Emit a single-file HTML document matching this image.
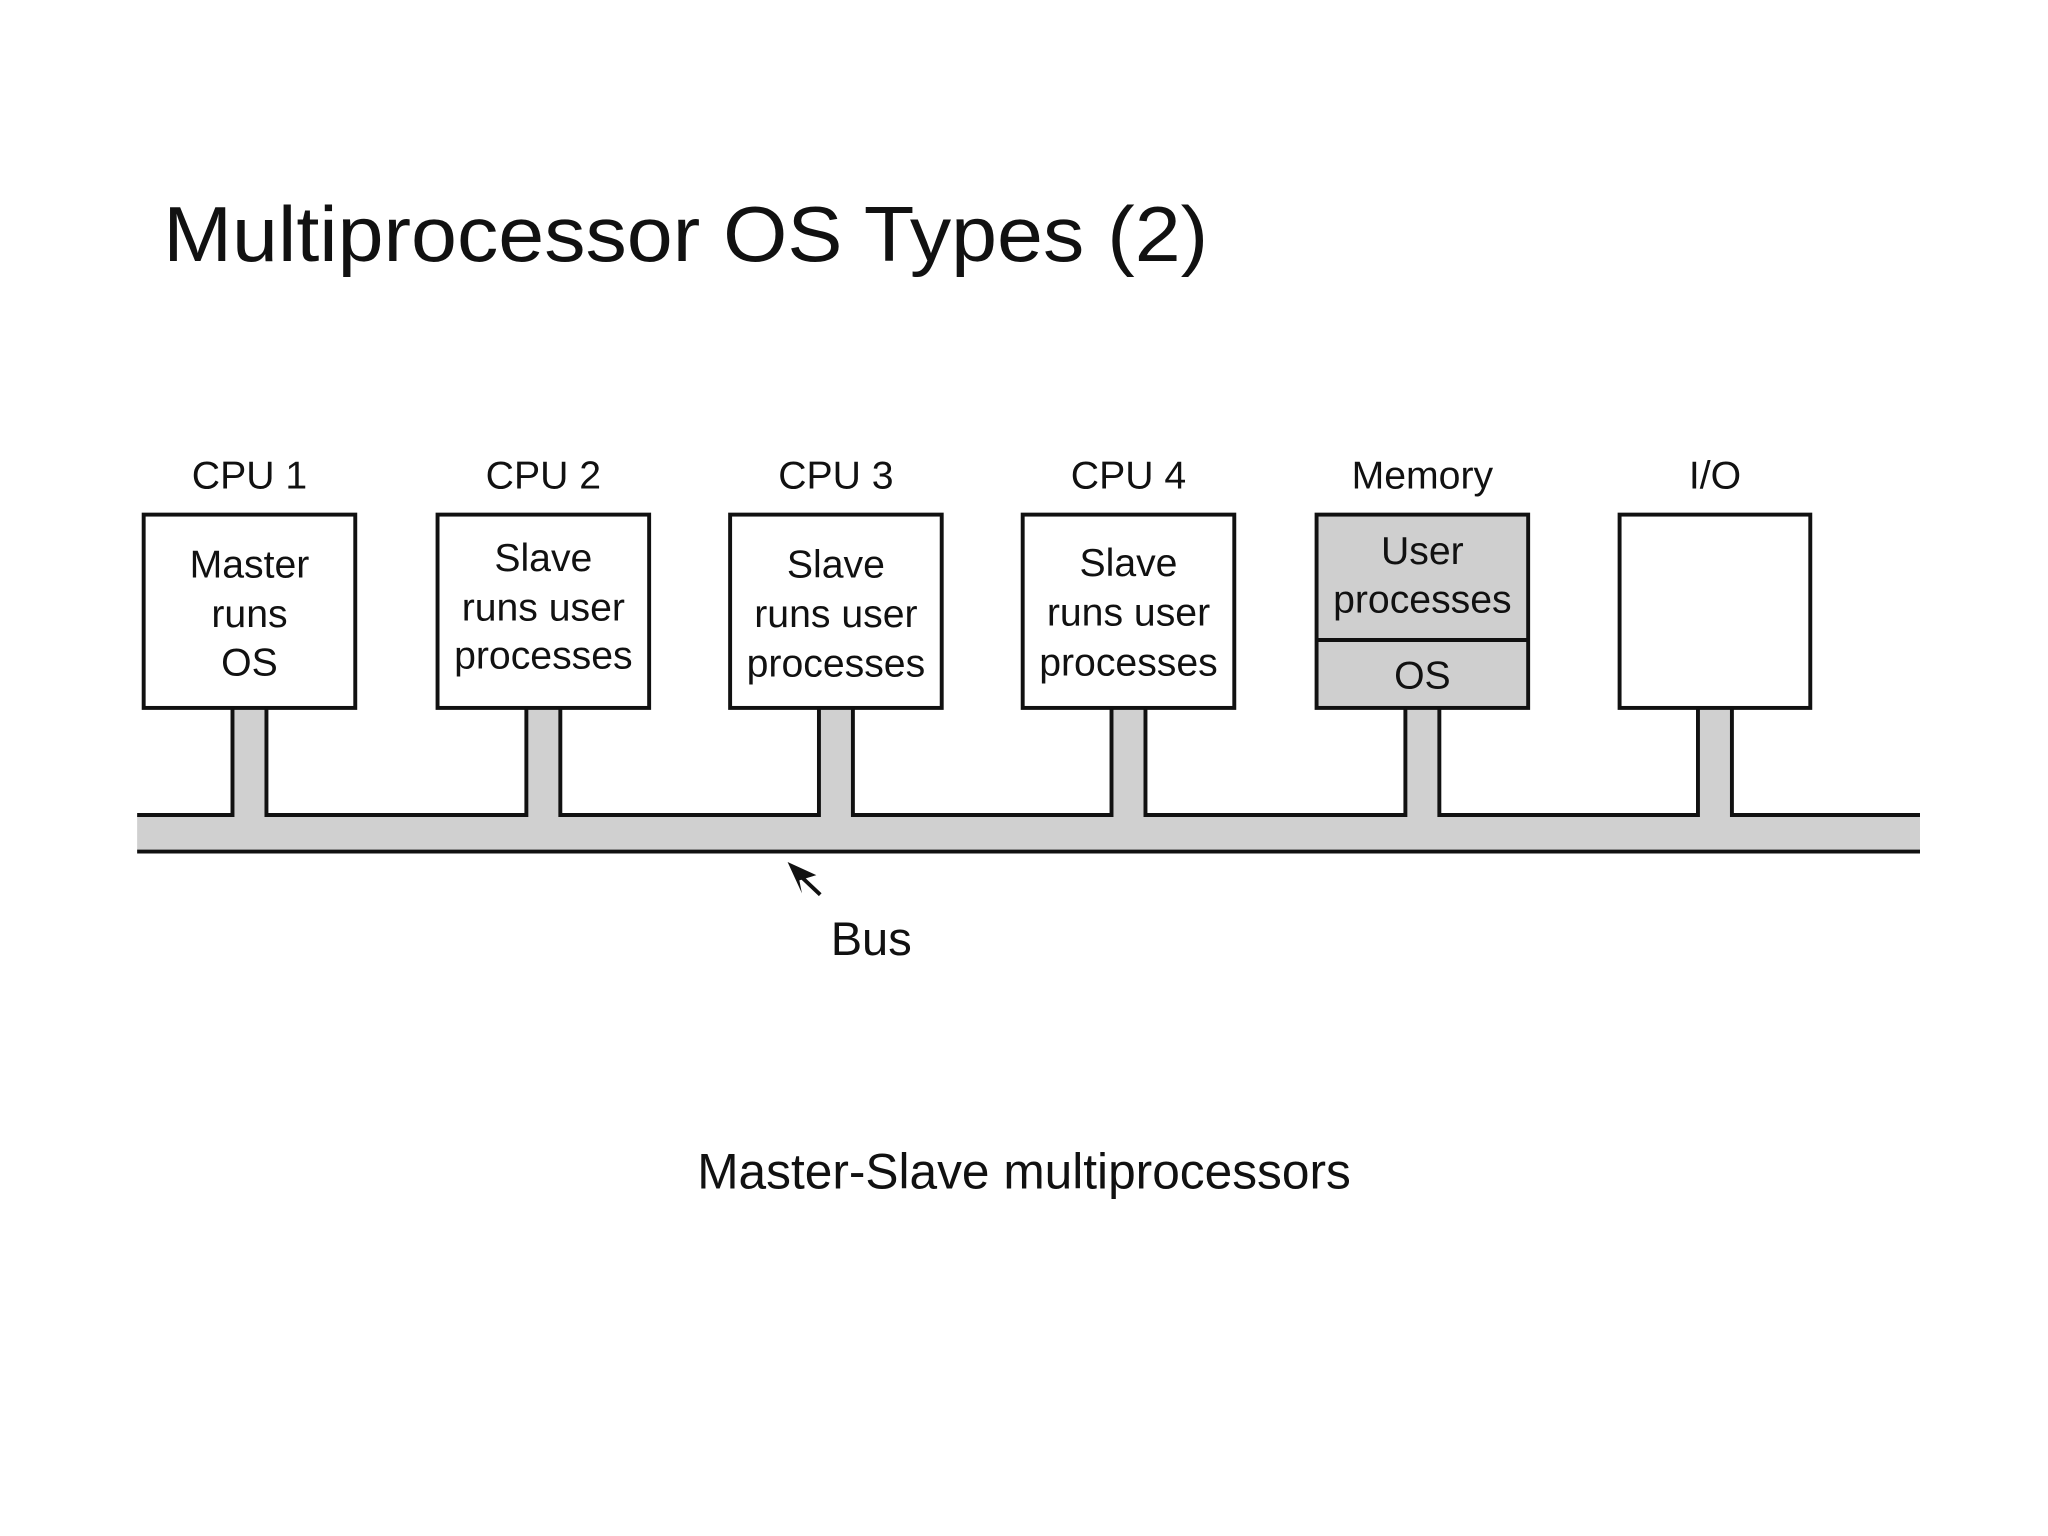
<!DOCTYPE html>
<html><head><meta charset="utf-8"><style>
html,body{margin:0;padding:0;background:#fff;}
svg{display:block;}
</style></head><body>
<svg width="2048" height="1536" viewBox="0 0 1568 1176" xmlns="http://www.w3.org/2000/svg">
<rect width="1568" height="1176" fill="#fff"/>
<text x="125" y="200" font-family="Liberation Sans, sans-serif" font-size="60" fill="#111" textLength="800" lengthAdjust="spacingAndGlyphs">Multiprocessor OS Types (2)</text>

<!-- bus gray -->
<g fill="#d0d0d0" stroke="none">
<rect x="105" y="624" width="1365" height="28"/>
<rect x="178" y="542" width="26" height="84"/>
<rect x="403" y="542" width="26" height="84"/>
<rect x="627" y="542" width="26" height="84"/>
<rect x="851" y="542" width="26" height="84"/>
<rect x="1076" y="542" width="26" height="84"/>
<rect x="1300" y="542" width="26" height="84"/>
</g>
<g stroke="#111" stroke-width="3" fill="none">
<line x1="105" y1="652" x2="1470" y2="652"/>
<polyline points="105,624 178,624 178,542"/>
<polyline points="204,542 204,624 403,624 403,542"/>
<polyline points="429,542 429,624 627,624 627,542"/>
<polyline points="653,542 653,624 851,624 851,542"/>
<polyline points="877,542 877,624 1076,624 1076,542"/>
<polyline points="1102,542 1102,624 1300,624 1300,542"/>
<polyline points="1326,542 1326,624 1470,624"/>
</g>

<!-- boxes -->
<g stroke="#111" stroke-width="3">
<rect x="110" y="394" width="162" height="148" fill="#fff"/>
<rect x="335" y="394" width="162" height="148" fill="#fff"/>
<rect x="559" y="394" width="162" height="148" fill="#fff"/>
<rect x="783" y="394" width="162" height="148" fill="#fff"/>
<rect x="1008" y="394" width="162" height="148" fill="#cfcfcf"/>
<line x1="1008" y1="490" x2="1170" y2="490"/>
<rect x="1240" y="394" width="146" height="148" fill="#fff"/>
</g>

<g font-family="Liberation Sans, sans-serif" font-size="30" fill="#111" text-anchor="middle">
<text x="191" y="374">CPU 1</text>
<text x="416" y="374">CPU 2</text>
<text x="640" y="374">CPU 3</text>
<text x="864" y="374">CPU 4</text>
<text x="1089" y="374">Memory</text>
<text x="1313" y="374">I/O</text>

<text x="191" y="442">Master</text>
<text x="191" y="480">runs</text>
<text x="191" y="517">OS</text>

<text x="416" y="437">Slave</text>
<text x="416" y="475">runs user</text>
<text x="416" y="512">processes</text>

<text x="640" y="442">Slave</text>
<text x="640" y="480">runs user</text>
<text x="640" y="518">processes</text>

<text x="864" y="441">Slave</text>
<text x="864" y="479">runs user</text>
<text x="864" y="517">processes</text>

<text x="1089" y="432">User</text>
<text x="1089" y="469">processes</text>
<text x="1089" y="527">OS</text>
</g>

<!-- arrow -->
<line x1="628" y1="685" x2="610" y2="668" stroke="#111" stroke-width="3"/>
<polygon points="603,660 625,670 612,674 614,684" fill="#111"/>

<g font-family="Liberation Sans, sans-serif" fill="#111">
<text x="636" y="731" font-size="36">Bus</text>
<text x="784" y="910" font-size="38" text-anchor="middle">Master-Slave multiprocessors</text>
</g>
</svg>
</body></html>
